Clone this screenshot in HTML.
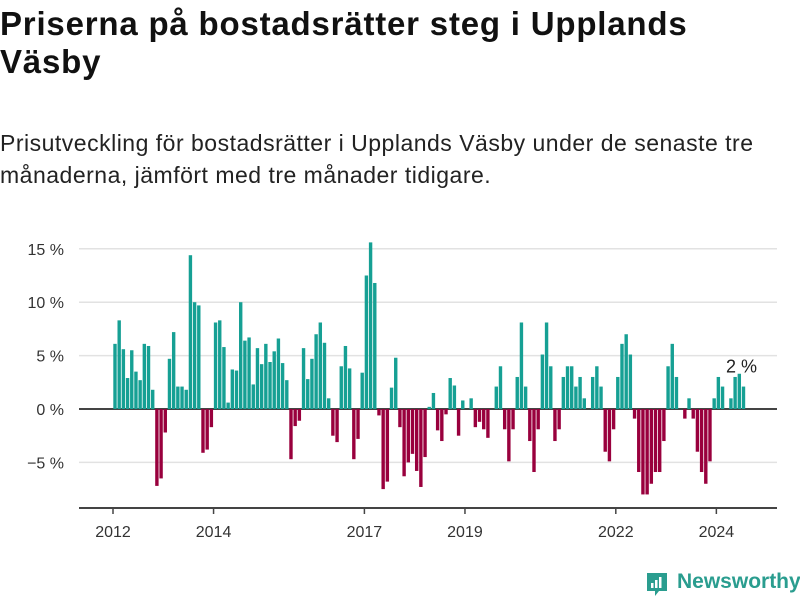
<!DOCTYPE html>
<html><head><meta charset="utf-8"><style>
body{margin:0;width:800px;height:600px;background:#fff;font-family:"Liberation Sans",sans-serif;color:#111;overflow:hidden;position:relative}
h1{position:absolute;left:0;top:5px;margin:0;font-size:33px;line-height:38px;font-weight:bold;letter-spacing:0.8px;width:800px;white-space:nowrap;color:#111}
p.sub{position:absolute;left:0;top:127px;margin:0;font-size:23px;line-height:32px;letter-spacing:0.5px;width:800px;white-space:nowrap;color:#222}
svg{position:absolute;left:0;top:0}
.logo{position:absolute;left:645px;top:570px;font-size:21px;font-weight:bold;color:#2a9d8f}
</style></head><body>
<h1>Priserna på bostadsrätter steg i Upplands<br>Väsby</h1>
<p class="sub">Prisutveckling för bostadsrätter i Upplands Väsby under de senaste tre<br>månaderna, jämfört med tre månader tidigare.</p>
<svg id="chart" width="800" height="600"></svg>
<div class="logo"><svg width="24" height="26" style="position:absolute;left:0;top:1px" viewBox="0 0 24 26"><path d="M2 2h20v18h-8l-4 5v-5H2z" fill="#2a9d8f"/><rect x="6" y="12" width="2.5" height="5" fill="#fff"/><rect x="10" y="9" width="2.5" height="8" fill="#fff"/><rect x="14" y="6" width="2.5" height="11" fill="#fff"/></svg><span style="margin-left:32px">Newsworthy</span></div>
<script>
const startYear = 2012;
const values = [6.1,8.3,5.6,2.9,5.5,3.5,2.7,6.1,5.9,1.8,-7.2,-6.5,-2.2,4.7,7.2,2.1,2.1,1.8,14.4,10.0,9.7,-4.1,-3.8,-1.7,8.1,8.3,5.8,0.6,3.7,3.6,10.0,6.4,6.7,2.3,5.7,4.2,6.1,4.4,
5.4,6.6,4.3,2.7,-4.7,-1.6,-1.1,5.7,2.8,4.7,7.0,8.1,6.2,1.0,-2.5,-3.1,4.0,5.9,3.8,-4.7,-2.8,3.4,12.5,15.6,11.8,-0.6,-7.5,-6.8,2.0,4.8,-1.7,-6.3,-5.0,-4.2,-5.8,-7.3,-4.5,0.2,1.5,-2.0,-3.0,-0.5,2.9,
2.2,-2.5,0.8,0,1.0,-1.7,-1.2,-1.9,-2.7,0,2.1,4.0,-1.9,-4.9,-1.9,3.0,8.1,2.1,-3.0,-5.9,-1.9,5.1,8.1,4.0,-3.0,-1.9,3.0,4.0,4.0,2.1,3.0,1.0,0,3.0,4.0,2.1,-4.0,-4.9,-1.9,3.0,
6.1,7.0,5.1,-0.9,-5.9,-8.0,-8.0,-7.0,-5.9,-5.9,-3.0,4.0,6.1,3.0,0,-0.9,1.0,-0.9,-4.0,-5.9,-7.0,-4.9,1.0,3.0,2.1,0,1.0,3.0,3.3,2.1];
const yTicks = [15,10,5,0,-5];
const xTickYears = [2012,2014,2017,2019,2022,2024];
const annotation = "2 %";
const NS="http://www.w3.org/2000/svg";
const svg=document.getElementById('chart');
const y=v=>409-v*10.68;
const xm=i=>115+i*4.19;
const xy=yr=>113+(yr-startYear)*12*4.19;
function mk(t,a){const e=document.createElementNS(NS,t);for(const k in a)e.setAttribute(k,a[k]);svg.appendChild(e);return e;}
yTicks.forEach(t=>{
  const l=mk('line',{x1:79,x2:777,y1:y(t),y2:y(t),stroke:t===0?'#444':'#e2e2e2','stroke-width':t===0?2:1.5});
  
  
  const tx=mk('text',{x:64,y:y(t)+6,'text-anchor':'end','font-size':16,fill:'#333','font-family':'Liberation Sans, sans-serif'});
  tx.textContent=(t<0?'\u2212'+(-t):t)+' %';
  
  
});
values.forEach((v,i)=>{
  const r=mk('rect',{x:xm(i)-1.7,width:3.4,y:Math.min(y(v),y(0)),height:Math.abs(y(v)-y(0)),fill:v>=0?'#16a094':'#99003d'});
  
  
});
const ax=mk('line',{x1:79,x2:777,y1:508,y2:508,stroke:'#444','stroke-width':2});


xTickYears.forEach(yr=>{
  const tk=mk('line',{x1:xy(yr),x2:xy(yr),y1:508,y2:514,stroke:'#444','stroke-width':1.5});
  
  
  const tx=mk('text',{x:xy(yr),y:537,'text-anchor':'middle','font-size':16,fill:'#333','font-family':'Liberation Sans, sans-serif'});
  tx.textContent=yr;
  
  
});
const li=values.length-1;
const an=mk('text',{x:xm(li)-2,y:y(values[li])-14,'text-anchor':'middle','font-size':18,fill:'#222','font-family':'Liberation Sans, sans-serif'});
an.textContent=annotation;


</script>
</body></html>
